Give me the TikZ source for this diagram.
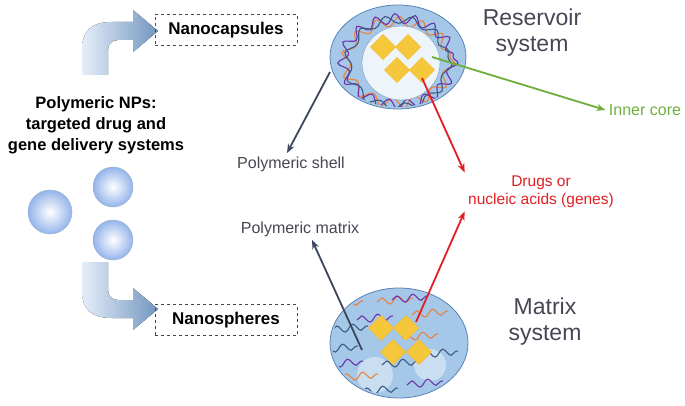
\documentclass[tikz,border=0pt]{standalone}
\usepackage{fontspec}
\setmainfont{Liberation Sans}
\usetikzlibrary{decorations.pathmorphing,arrows.meta,shadings}
\definecolor{shellblue}{RGB}{165,200,232}
\definecolor{shelledge}{RGB}{90,130,180}
\definecolor{dkline}{RGB}{60,70,95}
\definecolor{gr}{RGB}{110,175,60}
\definecolor{rd}{RGB}{225,30,35}
\definecolor{gold}{RGB}{245,200,60}
\definecolor{orng}{RGB}{235,130,60}
\definecolor{purp}{RGB}{110,50,170}
\definecolor{dblue}{RGB}{60,90,130}
\definecolor{txt}{RGB}{70,70,85}
\tikzset{
 shell/.style={fill=shellblue},
 dia/.style={fill=gold,draw=gold!80!orange,line width=0.4pt},
 box/.style={draw=dkline,dashed,line width=0.8pt,minimum width=142pt,minimum height=31pt,font=\bfseries\fontsize{17}{19}\selectfont,text=black},
 lab/.style={font=\fontsize{16}{19}\selectfont,text=txt,align=center},
 big/.style={font=\fontsize{23}{26}\selectfont,text=txt,align=center},
 arr/.style={-{Stealth[length=9pt,width=7pt]},line width=1.8pt},
 sphere/.style={inner color=white,outer color=shellblue!90!blue,draw=shelledge!60,line width=0.5pt},
 strand/.style={decorate,decoration={snake,amplitude=3.5pt,segment length=16pt},line width=1.1pt},
 bigarrow/.style={left color=shellblue!30!white,right color=shelledge!85!white}
}
\newcommand{\dmd}[2]{\fill[dia] (#1-12.5,#2) -- (#1,#2-12.5) -- (#1+12.5,#2) -- (#1,#2+12.5) -- cycle;}
\begin{document}
\begin{tikzpicture}[x=1pt,y=-1pt]
\useasboundingbox (0,0) rectangle (685,406);
% blue arrows
\fill[bigarrow] (82,75) -- (82,50) .. controls (82,30) and (92,22) .. (112,22) -- (133,22) -- (133,10) -- (158,31) -- (133,52) -- (133,40) -- (118,40) .. controls (112,40) and (108,44) .. (108,50) -- (108,75) -- cycle;
\fill[bigarrow] (82,262) -- (82,290) .. controls (82,310) and (92,318) .. (112,318) -- (133,318) -- (133,330) -- (158,309) -- (133,288) -- (133,300) -- (118,300) .. controls (112,300) and (108,296) .. (108,290) -- (108,262) -- cycle;
\node[box] (nc) at (226,30) {Nanocapsules};
\node[box] (ns) at (226,320) {Nanospheres};
\node[font=\bfseries\fontsize{16.5}{21}\selectfont,align=center] (np) at (96,125) {Polymeric NPs:\\targeted drug and\\gene delivery systems};
\shade[sphere] (113,187) circle (20);
\shade[sphere] (50,212) circle (22);
\shade[sphere] (113,240) circle (20);
% reservoir
\fill[shell] (398,57) ellipse (68 and 52);
\draw[shelledge,line width=0.8pt] (398,57) ellipse (68 and 52);
\begin{scope}
\clip (398,57) ellipse (66 and 50);
\draw[strand,orng,decoration={amplitude=5pt,segment length=22pt}] (398,57) ellipse (52 and 41);
\draw[strand,purp,decoration={amplitude=5pt,segment length=19pt}] (398,57) ellipse (55 and 43);
\draw[strand,dblue,decoration={amplitude=4pt,segment length=26pt}] (398,57) ellipse (50 and 44);
\end{scope}
\fill[white!80!shellblue,draw=shelledge!80] (401,63) ellipse (39 and 37);
\dmd{383}{47}\dmd{408}{47}\dmd{397}{70}\dmd{422}{70}
\coordinate (core) at (432,57);
\coordinate (drR) at (422,78);
\coordinate (shl) at (330,72);
% matrix
\fill[shell] (399,343) ellipse (69 and 55);
\draw[shelledge,line width=0.8pt] (399,343) ellipse (69 and 55);
\begin{scope}
\clip (399,343) ellipse (67 and 53);
\fill[white,opacity=0.4] (375,375) circle (18);
\fill[white,opacity=0.4] (430,365) circle (16);
\foreach \x/\y/\c in {345/305/orng,395/302/orng,430/315/orng,350/330/dblue,420/338/orng,340/350/dblue,400/365/dblue,360/378/orng,425/385/purp,375/320/purp,345/365/purp,440/355/dblue,380/392/dblue,410/300/purp}
 \draw[strand,\c] (\x-18,\y) -- (\x+18,\y-4);
\end{scope}
\dmd{381}{328}\dmd{406}{328}\dmd{393}{352}\dmd{419}{352}
\coordinate (drM) at (416,322);
\coordinate (mtx) at (362,350);
% labels
\node[big] (res) at (532,33) {Reservoir\\system};
\node[big] (mat) at (545,322) {Matrix\\system};
\node[lab,text=gr] (ic) at (645,110) {Inner core};
\node[lab,text=rd,font=\fontsize{15.5}{18}\selectfont] (dr) at (541,192) {Drugs or\\nucleic acids (genes)};
\node[lab] (ps) at (291,164) {Polymeric shell};
\node[lab] (pm) at (300,229) {Polymeric matrix};
\draw[arr,dkline] (shl) -- ([xshift=-4pt]ps.north);
\draw[arr,dkline] (mtx) -- ([xshift=12pt]pm.south);
\draw[arr,gr] (core) -- (ic.west);
\draw[arr,rd] (drR) -- (dr.north west);
\draw[arr,rd] (drM) -- (dr.south west);
\end{tikzpicture}
\end{document}
